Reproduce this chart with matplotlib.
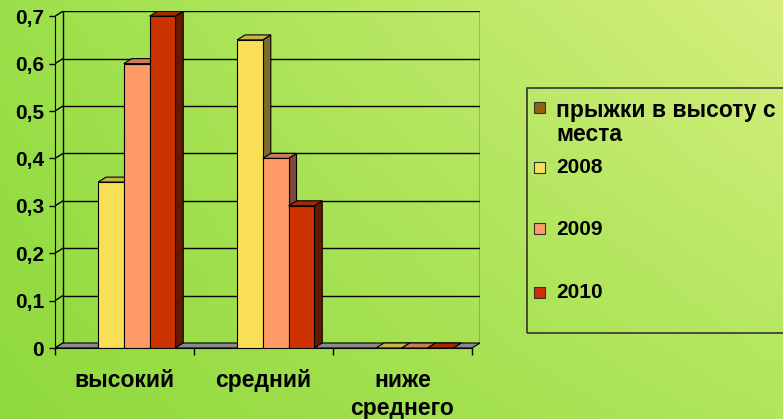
import numpy as np
import matplotlib
matplotlib.use("Agg")
import matplotlib.pyplot as plt
from matplotlib.patches import Polygon, Rectangle

# ---- data ----
categories = ["высокий", "средний", "ниже\nсреднего"]
series_names = ["прыжки в высоту с\nместа", "2008", "2009", "2010"]
jumps = [None, None, None]          # no data for this series
v2008 = [0.35, 0.65, 0.0]
v2009 = [0.6, 0.4, 0.0]
v2010 = [0.7, 0.3, 0.0]
ytick_vals = [0, 0.1, 0.2, 0.3, 0.4, 0.5, 0.6, 0.7]
ytick_labels = ["0", "0,1", "0,2", "0,3", "0,4", "0,5", "0,6", "0,7"]

series_values = [jumps, v2008, v2009, v2010]
front_colors = ["#94620e", "#f9df55", "#fe9a68", "#cc3300"]
top_colors = ["#6b4608", "#c8b445", "#cc7a58", "#a32900"]
side_colors = ["#5a3a06", "#7d6b2e", "#7f4a38", "#661a00"]

plt.rcParams['font.family'] = ['Liberation Sans', 'DejaVu Sans']
plt.rcParams['font.weight'] = 'bold'

W, H = 783, 419
fig = plt.figure(figsize=(W / 100, H / 100), dpi=100)

# background gradient
bg = fig.add_axes([0, 0, 1, 1], zorder=0)
bl = np.array([0x8f, 0xd9, 0x3d]) / 255
tl = np.array([0x9b, 0xe0, 0x4a]) / 255
tr = np.array([0xd6, 0xef, 0x7e]) / 255
br = np.array([0xb0, 0xe6, 0x5c]) / 255
u = np.linspace(0, 1, 200)[None, :, None]
v = np.linspace(0, 1, 120)[:, None, None]
img = (1 - u) * (1 - v) * tl + u * (1 - v) * tr + (1 - u) * v * bl + u * v * br
bg.imshow(img, aspect='auto', extent=[0, 1, 0, 1], origin='upper')
bg.set_axis_off()

# main axes (front plane at data coords, depth as offsets)
n = len(categories)
px_per_x = 139.0
px_per_y = 474.0
dx = 8 / px_per_x
dy = 5 / px_per_y
ymax = ytick_vals[-1]
ax = fig.add_axes([55 / W, (H - 348) / H, (n * px_per_x + 8) / W, (ymax * px_per_y + 5) / H], zorder=1)
ax.set_xlim(0, n + dx)
ax.set_ylim(0, ymax + dy)
ax.patch.set_visible(False)
for s in ['top', 'right']:
    ax.spines[s].set_visible(False)
ax.spines['left'].set_bounds(0, ymax)
ax.spines['bottom'].set_bounds(0, n)
ax.spines['left'].set_zorder(5)
ax.spines['bottom'].set_zorder(5)

lw = 1.0
# walls / gridlines
for yv in ytick_vals:
    if yv > 0:
        ax.plot([dx, n + dx], [yv + dy, yv + dy], color='black', lw=lw, zorder=1)
    ax.plot([0, dx], [yv, yv + dy], color='black', lw=lw, zorder=1)
ax.plot([dx, dx], [dy, ymax + dy], color='black', lw=lw, zorder=1)
ax.plot([n + dx, n + dx], [dy, ymax + dy], color='black', lw=lw, zorder=1)
# floor
ax.add_patch(Polygon([(0, 0), (n, 0), (n + dx, dy), (dx, dy)], closed=True,
                     fc='#8a8a8a', ec='black', lw=0.8, zorder=2))

# bars
w = 0.185
off = 0.125
z = 3
for i in range(n):
    for k, vals in enumerate(series_values):
        h = vals[i]
        if h is None:
            continue
        x0 = off + i + k * w
        ax.add_patch(Polygon([(x0 + w, 0), (x0 + w + dx, dy), (x0 + w + dx, h + dy), (x0 + w, h)],
                             closed=True, fc=side_colors[k], ec='black', lw=0.8, zorder=z))
        ax.add_patch(Polygon([(x0, h), (x0 + w, h), (x0 + w + dx, h + dy), (x0 + dx, h + dy)],
                             closed=True, fc=top_colors[k], ec='black', lw=0.8, zorder=z))
        if h > 0:
            ax.add_patch(Rectangle((x0, 0), w, h, fc=front_colors[k], ec='black', lw=0.8, zorder=z))
        z += 1

# ticks
ax.set_yticks(ytick_vals)
ax.set_yticklabels(ytick_labels, fontsize=15, fontweight='bold')
ax.tick_params(axis='y', direction='out', length=4, width=1, pad=4)
ax.set_xticks(range(n + 1))
ax.set_xticklabels([''] * (n + 1))
ax.tick_params(axis='x', which='major', direction='out', length=5, width=1)
ax.set_xticks([i + 0.5 for i in range(n)], minor=True)
ax.set_xticklabels(categories, minor=True, fontsize=16.5, fontweight='bold', linespacing=1.3)
ax.tick_params(axis='x', which='minor', length=0, pad=15)

# legend (manual)
tf = fig.transFigure
fig.patches.append(Rectangle((527 / W, (H - 333) / H), (795 - 527) / W, (333 - 88) / H,
                             transform=tf, fill=False, ec='#333333', lw=1.2, zorder=2))
leg_y = [108, 167, 229, 292]
leg_fs = [16.5, 15, 15, 15]
for k, name in enumerate(series_names):
    yc = leg_y[k]
    fig.patches.append(Rectangle((534 / W, (H - yc - 5.5) / H), 11 / W, 11 / H, transform=tf,
                                 fc=front_colors[k], ec='#333333', lw=0.8, zorder=3))
    fig.text(556 / W, (H - yc + 9) / H, name, fontsize=leg_fs[k], fontweight='bold', va='top',
             ha='left', linespacing=1.05, transform=tf)

fig.savefig('out.png', dpi=100)
